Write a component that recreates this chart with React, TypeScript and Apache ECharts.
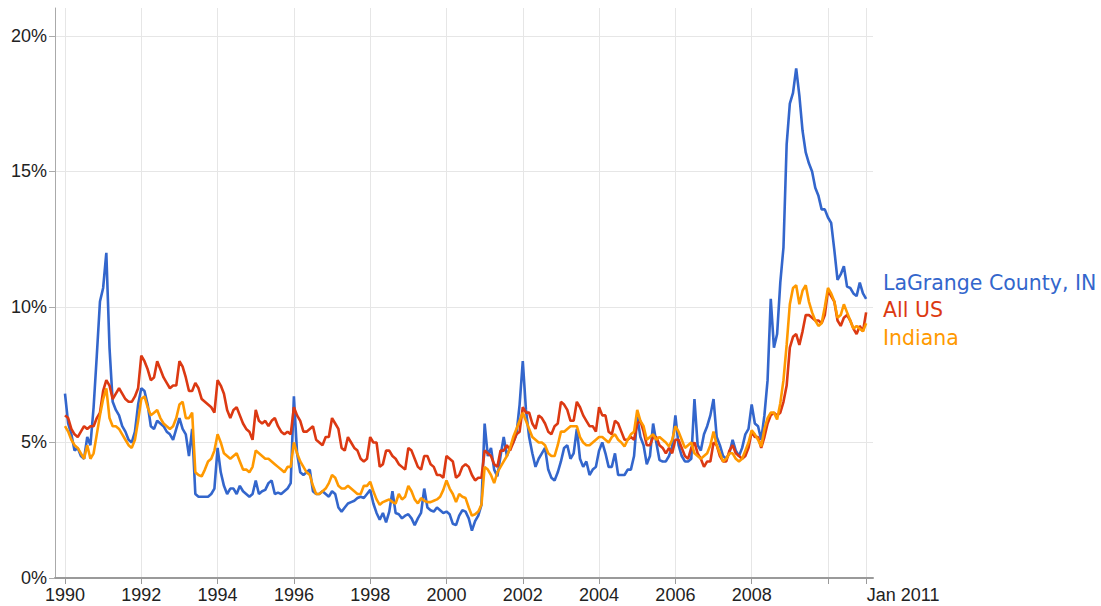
import React, { useEffect, useRef } from "react";
import * as echarts from "echarts";

const START_YEAR = 1990;
const SERIES_NAMES = ["LaGrange County, IN", "All US", "Indiana"];
const COLORS = ["#3366cc", "#dc3912", "#ff9900"];

// Monthly unemployment rate (%), Jan 1990 .. Jan 2011
const lagrange = [
  6.8, 5.7, 5.3, 4.7, 4.8, 4.5, 4.4, 5.2, 4.9, 6.3, 8.2, 10.2, // 1990
  10.7, 12.0, 8.5, 6.5, 6.2, 6.0, 5.6, 5.4, 5.1, 5.0, 5.4, 6.4, // 1991
  7.0, 6.9, 6.4, 5.6, 5.5, 5.8, 5.7, 5.6, 5.4, 5.3, 5.1, 5.5, // 1992
  5.9, 5.5, 5.3, 4.5, 5.5, 3.1, 3.0, 3.0, 3.0, 3.0, 3.1, 3.3, // 1993
  4.8, 3.9, 3.4, 3.1, 3.3, 3.3, 3.1, 3.4, 3.2, 3.1, 3.0, 3.1, // 1994
  3.6, 3.1, 3.2, 3.25, 3.5, 3.6, 3.1, 3.15, 3.1, 3.2, 3.3, 3.5, // 1995
  6.7, 4.6, 3.9, 3.8, 3.9, 4.0, 3.2, 3.1, 3.1, 3.2, 3.1, 3.0, // 1996
  3.2, 3.1, 2.6, 2.45, 2.6, 2.75, 2.8, 2.85, 2.95, 3.0, 2.95, 3.1, // 1997
  3.25, 2.75, 2.4, 2.15, 2.4, 2.05, 2.45, 3.2, 2.4, 2.35, 2.2, 2.3, // 1998
  2.35, 2.2, 1.95, 2.2, 2.4, 3.3, 2.6, 2.5, 2.45, 2.6, 2.5, 2.4, // 1999
  2.45, 2.35, 2.0, 1.95, 2.3, 2.5, 2.45, 2.2, 1.75, 2.1, 2.3, 2.7, // 2000
  5.7, 4.5, 4.8, 4.0, 3.75, 4.5, 5.2, 4.5, 4.8, 5.0, 5.3, 6.4, // 2001
  8.0, 6.2, 5.2, 4.6, 4.1, 4.4, 4.6, 4.8, 4.0, 3.7, 3.6, 3.9, // 2002
  4.3, 4.8, 4.9, 4.4, 4.6, 5.5, 4.4, 4.1, 4.3, 3.8, 4.0, 4.1, // 2003
  4.7, 5.0, 4.6, 4.1, 4.1, 4.6, 3.8, 3.8, 3.8, 4.0, 4.0, 4.5, // 2004
  5.95, 5.2, 4.9, 4.2, 4.5, 5.7, 5.0, 4.35, 4.3, 4.3, 4.5, 4.85, // 2005
  6.0, 4.9, 4.5, 4.3, 4.3, 4.4, 6.6, 4.9, 4.7, 5.3, 5.6, 6.0, // 2006
  6.6, 5.2, 4.9, 4.5, 4.4, 4.6, 5.1, 4.7, 4.5, 4.8, 5.3, 5.5, // 2007
  6.4, 5.7, 5.6, 5.1, 6.0, 7.3, 10.3, 8.5, 9.0, 10.9, 12.2, 16.0, // 2008
  17.5, 17.9, 18.8, 17.8, 16.5, 15.7, 15.3, 15.0, 14.4, 14.1, 13.6, 13.6, // 2009
  13.3, 13.1, 12.1, 11.0, 11.2, 11.5, 10.75, 10.7, 10.5, 10.4, 10.9, 10.5, // 2010
  10.3, // 2011
];

const allUS = [
  6.0, 5.9, 5.5, 5.3, 5.2, 5.4, 5.6, 5.5, 5.6, 5.6, 5.9, 6.1, // 1990
  6.9, 7.3, 7.1, 6.6, 6.8, 7.0, 6.8, 6.6, 6.5, 6.5, 6.7, 7.0, // 1991
  8.2, 8.0, 7.7, 7.3, 7.4, 8.0, 7.7, 7.4, 7.2, 7.0, 7.1, 7.1, // 1992
  8.0, 7.8, 7.4, 6.9, 6.9, 7.2, 7.0, 6.6, 6.5, 6.4, 6.3, 6.1, // 1993
  7.3, 7.1, 6.8, 6.2, 5.9, 6.2, 6.3, 6.0, 5.7, 5.5, 5.4, 5.1, // 1994
  6.2, 5.8, 5.7, 5.8, 5.6, 5.8, 5.9, 5.6, 5.4, 5.3, 5.4, 5.3, // 1995
  6.3, 6.0, 5.8, 5.4, 5.4, 5.5, 5.6, 5.1, 5.0, 4.9, 5.2, 5.2, // 1996
  5.9, 5.7, 5.5, 4.8, 4.7, 5.2, 5.0, 4.8, 4.7, 4.4, 4.3, 4.4, // 1997
  5.2, 5.0, 5.0, 4.1, 4.2, 4.7, 4.7, 4.5, 4.4, 4.2, 4.1, 4.0, // 1998
  4.8, 4.7, 4.4, 4.1, 4.0, 4.5, 4.5, 4.2, 4.1, 3.8, 3.8, 3.7, // 1999
  4.5, 4.4, 4.3, 3.7, 3.8, 4.1, 4.2, 4.1, 3.8, 3.6, 3.7, 3.7, // 2000
  4.7, 4.6, 4.5, 4.2, 4.1, 4.7, 4.7, 4.9, 4.7, 5.0, 5.3, 5.4, // 2001
  6.3, 6.1, 6.1, 5.7, 5.5, 6.0, 5.9, 5.7, 5.4, 5.3, 5.6, 5.7, // 2002
  6.5, 6.4, 6.2, 5.8, 5.8, 6.5, 6.3, 6.0, 5.8, 5.6, 5.6, 5.4, // 2003
  6.3, 6.0, 6.0, 5.4, 5.3, 5.8, 5.7, 5.4, 5.1, 5.1, 5.2, 5.1, // 2004
  5.7, 5.8, 5.4, 4.9, 4.9, 5.2, 5.2, 4.9, 4.8, 4.6, 4.8, 4.6, // 2005
  5.1, 5.1, 4.8, 4.5, 4.4, 4.8, 5.0, 4.6, 4.4, 4.1, 4.3, 4.3, // 2006
  5.0, 4.9, 4.5, 4.3, 4.3, 4.7, 4.9, 4.6, 4.5, 4.4, 4.5, 4.8, // 2007
  5.4, 5.2, 5.2, 4.8, 5.2, 5.7, 6.0, 6.1, 6.0, 6.1, 6.5, 7.1, // 2008
  8.5, 8.9, 9.0, 8.6, 9.1, 9.7, 9.7, 9.6, 9.5, 9.5, 9.4, 9.7, // 2009
  10.6, 10.4, 10.2, 9.5, 9.3, 9.6, 9.7, 9.5, 9.2, 9.0, 9.3, 9.1, // 2010
  9.8, // 2011
];

const indiana = [
  5.6, 5.4, 5.1, 4.9, 4.8, 4.6, 4.4, 4.9, 4.4, 4.6, 5.3, 6.0, // 1990
  6.6, 7.0, 5.9, 5.6, 5.6, 5.5, 5.3, 5.1, 4.9, 4.8, 5.1, 5.8, // 1991
  6.6, 6.7, 6.3, 6.0, 6.1, 6.2, 5.9, 5.7, 5.6, 5.5, 5.6, 5.9, // 1992
  6.4, 6.5, 5.9, 5.9, 6.1, 3.9, 3.8, 3.75, 4.0, 4.3, 4.4, 4.7, // 1993
  5.3, 5.0, 4.6, 4.5, 4.4, 4.5, 4.6, 4.3, 4.0, 4.0, 3.9, 4.1, // 1994
  4.7, 4.6, 4.5, 4.4, 4.4, 4.3, 4.2, 4.1, 4.0, 3.9, 4.1, 4.1, // 1995
  5.0, 4.6, 4.3, 4.1, 3.9, 3.8, 3.4, 3.1, 3.1, 3.2, 3.3, 3.5, // 1996
  3.8, 3.7, 3.4, 3.3, 3.3, 3.4, 3.3, 3.2, 3.1, 3.1, 3.4, 3.4, // 1997
  3.55, 3.2, 2.9, 2.7, 2.8, 2.85, 2.9, 2.8, 2.75, 3.1, 2.9, 3.0, // 1998
  3.4, 3.2, 2.9, 2.75, 2.95, 2.85, 2.8, 2.8, 2.85, 2.9, 3.0, 3.25, // 1999
  3.6, 3.3, 3.1, 2.8, 3.1, 3.0, 2.95, 2.6, 2.3, 2.35, 2.45, 2.7, // 2000
  4.1, 4.0, 3.8, 3.5, 3.9, 4.1, 4.3, 4.5, 4.8, 5.2, 5.5, 5.8, // 2001
  6.1, 5.8, 5.5, 5.2, 5.1, 5.0, 5.0, 4.9, 4.6, 4.5, 4.5, 4.9, // 2002
  5.4, 5.4, 5.5, 5.6, 5.6, 5.6, 5.2, 5.0, 4.9, 4.9, 5.0, 5.1, // 2003
  5.2, 5.2, 5.1, 5.0, 5.2, 5.3, 5.1, 5.0, 4.85, 5.1, 5.3, 5.4, // 2004
  6.2, 5.8, 5.6, 5.1, 5.2, 5.3, 5.1, 5.2, 5.1, 5.0, 4.85, 5.1, // 2005
  5.6, 5.4, 5.1, 4.8, 4.9, 5.0, 4.6, 4.5, 4.4, 4.5, 4.6, 4.9, // 2006
  5.4, 4.9, 4.6, 4.3, 4.4, 4.6, 4.6, 4.4, 4.3, 4.4, 4.7, 5.0, // 2007
  5.45, 5.3, 5.1, 4.85, 5.5, 5.9, 6.1, 6.1, 5.85, 6.45, 7.3, 8.6, // 2008
  10.1, 10.7, 10.8, 10.1, 10.6, 10.8, 10.2, 9.8, 9.5, 9.3, 9.4, 10.0, // 2009
  10.7, 10.5, 10.2, 9.6, 9.7, 10.1, 9.8, 9.5, 9.2, 9.3, 9.2, 9.1, // 2010
  9.4, // 2011
];

const xTickYears = [1990, 1992, 1994, 1996, 1998, 2000, 2002, 2004, 2006, 2008, 2010, 2011];
const xLabelYears = [1990, 1992, 1994, 1996, 1998, 2000, 2002, 2004, 2006, 2008, 2011];
const yTicks = [0, 5, 10, 15, 20];

const AXIS_FONT = "'Liberation Sans', Arial, sans-serif";
const LEGEND_FONT = "'DejaVu Sans', Verdana, sans-serif";

function toSeriesData(values: number[]) {
  return values.map((v, i) => [START_YEAR + i / 12, v]);
}

export default function App() {
  const ref = useRef<HTMLDivElement>(null);

  useEffect(() => {
    if (!ref.current) return;
    const chart = echarts.init(ref.current, undefined, { renderer: "svg" });
    const allData = [lagrange, allUS, indiana];
    chart.setOption({
      animation: false,
      backgroundColor: "#ffffff",
      grid: { left: 55, right: 228, top: 8, bottom: 28, containLabel: false },
      legend: {
        orient: "vertical",
        left: 878,
        top: 272,
        padding: 0,
        itemGap: 6.5,
        itemWidth: 0,
        itemHeight: 20,
        icon: "none",
        selectedMode: false,
        textStyle: { fontFamily: LEGEND_FONT, fontSize: 20.5, lineHeight: 20 },
        data: SERIES_NAMES.map((n, i) => ({ name: n, textStyle: { color: COLORS[i] } })),
      },
      xAxis: {
        type: "value",
        min: 1989.738,
        max: 2011.18,
        axisLine: { show: true, onZero: false, lineStyle: { color: "#9a9a9a", width: 2 } },
        axisTick: {
          show: true,
          customValues: xTickYears,
          length: 6,
          lineStyle: { color: "#9a9a9a", width: 1 },
        },
        axisLabel: {
          customValues: xLabelYears,
          margin: 8,
          color: "#222222",
          fontFamily: AXIS_FONT,
          fontSize: 18,
          formatter: (v: number) => (Math.round(v) === 2011 ? "{end|Jan 2011}" : String(Math.round(v))),
          rich: {
            end: {
              padding: [0, 0, 0, 74],
              color: "#222222",
              fontFamily: AXIS_FONT,
              fontSize: 18,
            },
          },
        },
        splitLine: { show: true, lineStyle: { color: "#e6e6e6", width: 1 } },
      },
      yAxis: {
        type: "value",
        min: 0,
        max: 21.03,
        axisLine: { show: true, lineStyle: { color: "#aaaaaa", width: 1 } },
        axisTick: {
          show: true,
          customValues: yTicks,
          length: 6,
          lineStyle: { color: "#aaaaaa", width: 1 },
        },
        axisLabel: {
          customValues: yTicks,
          margin: 8,
          color: "#222222",
          fontFamily: AXIS_FONT,
          fontSize: 18,
          formatter: (v: number) => `${Math.round(v)}%`,
        },
        splitLine: { show: true, lineStyle: { color: "#e6e6e6", width: 1 } },
      },
      series: SERIES_NAMES.map((name, i) => ({
        name,
        type: "line",
        data: toSeriesData(allData[i]),
        showSymbol: false,
        symbol: "none",
        lineStyle: { color: COLORS[i], width: 2.6 },
        itemStyle: { color: COLORS[i] },
        emphasis: { disabled: true },
      })),
    });
    return () => chart.dispose();
  }, []);

  return (
    <div
      ref={ref}
      style={{ position: "fixed", left: 0, top: 0, width: 1101, height: 606, background: "#fff" }}
    />
  );
}
